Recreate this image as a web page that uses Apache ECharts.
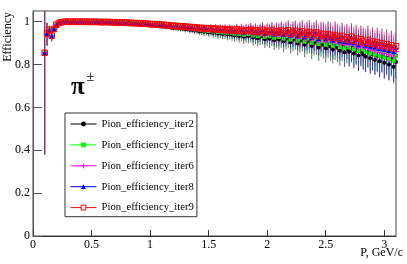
<!DOCTYPE html>
<html>
<head>
<meta charset="utf-8">
<script src="https://cdn.jsdelivr.net/npm/echarts@6/dist/echarts.min.js"></script>
<style>html,body{margin:0;padding:0;background:#fff}#c{width:407px;height:264px}</style>
</head>
<body>
<div id="c"></div>
<script>
// ---- data ----
const P = [
0.10,0.12,0.14,0.16,0.18,0.20,0.22,0.24,0.26,0.28,
0.30,0.32,0.34,0.36,0.38,0.40,0.42,0.44,0.46,0.48,
0.50,0.52,0.54,0.56,0.58,0.60,0.62,0.64,0.66,0.68,
0.70,0.72,0.74,0.76,0.78,0.80,0.82,0.84,0.86,0.88,
0.90,0.92,0.94,0.96,0.98,1.00,1.02,1.04,1.06,1.08,
1.10,1.12,1.14,1.16,1.18,1.20,1.22,1.24,1.26,1.28,
1.30,1.32,1.34,1.36,1.38,1.40,1.42,1.44,1.46,1.48,
1.50,1.52,1.54,1.56,1.58,1.60,1.62,1.64,1.66,1.68,
1.70,1.72,1.74,1.76,1.78,1.80,1.82,1.84,1.86,1.88,
1.90,1.92,1.94,1.96,1.98,2.00,2.02,2.04,2.06,2.08,
2.10,2.12,2.14,2.16,2.18,2.20,2.22,2.24,2.26,2.28,
2.30,2.32,2.34,2.36,2.38,2.40,2.42,2.44,2.46,2.48,
2.50,2.52,2.54,2.56,2.58,2.60,2.62,2.64,2.66,2.68,
2.70,2.72,2.74,2.76,2.78,2.80,2.82,2.84,2.86,2.88,
2.90,2.92,2.94,2.96,2.98,3.00,3.02,3.04,3.06,3.08,3.10];

const iter2 = [
0.855,0.945,0.961,0.934,0.965,0.986,0.994,0.997,0.999,1.000,
1.000,0.999,1.000,0.999,0.999,1.000,0.999,0.999,0.999,0.998,
0.999,0.999,0.998,0.998,0.997,0.998,0.997,0.997,0.996,0.995,
0.996,0.995,0.994,0.994,0.992,0.993,0.991,0.991,0.989,0.990,
0.988,0.988,0.986,0.985,0.985,0.983,0.982,0.982,0.980,0.979,
0.978,0.978,0.975,0.976,0.973,0.971,0.972,0.969,0.968,0.968,
0.965,0.966,0.962,0.963,0.959,0.960,0.956,0.957,0.953,0.955,
0.951,0.953,0.948,0.951,0.945,0.948,0.943,0.946,0.940,0.944,
0.940,0.936,0.942,0.933,0.939,0.930,0.936,0.933,0.938,0.926,
0.933,0.923,0.930,0.934,0.918,0.927,0.921,0.930,0.913,0.924,
0.917,0.926,0.909,0.920,0.927,0.904,0.916,0.922,0.898,0.912,
0.918,0.893,0.907,0.913,0.887,0.902,0.909,0.880,0.898,0.892,
0.876,0.896,0.884,0.870,0.890,0.878,0.864,0.884,0.858,0.874,
0.860,0.878,0.852,0.868,0.842,0.862,0.848,0.836,0.858,0.830,
0.848,0.823,0.842,0.815,0.838,0.808,0.832,0.800,0.826,0.790,0.812];

const iter4 = [
0.855,0.945,0.961,0.934,0.966,0.986,0.994,0.997,0.999,1.000,
1.000,0.999,1.000,1.000,0.999,1.000,0.999,0.999,1.000,0.999,
0.999,0.999,0.999,0.998,0.998,0.998,0.997,0.998,0.997,0.996,
0.997,0.996,0.995,0.995,0.993,0.994,0.992,0.993,0.991,0.991,
0.990,0.990,0.988,0.987,0.988,0.985,0.985,0.985,0.983,0.982,
0.981,0.981,0.978,0.979,0.977,0.975,0.976,0.973,0.972,0.972,
0.970,0.971,0.967,0.968,0.964,0.966,0.962,0.963,0.959,0.961,
0.957,0.960,0.955,0.958,0.952,0.955,0.950,0.954,0.948,0.952,
0.948,0.944,0.951,0.942,0.948,0.939,0.945,0.942,0.948,0.936,
0.943,0.933,0.940,0.945,0.929,0.938,0.932,0.941,0.925,0.935,
0.929,0.938,0.921,0.932,0.939,0.917,0.928,0.935,0.912,0.925,
0.932,0.907,0.921,0.927,0.902,0.917,0.923,0.896,0.913,0.908,
0.893,0.913,0.901,0.888,0.907,0.896,0.882,0.902,0.877,0.893,
0.880,0.898,0.873,0.889,0.864,0.884,0.870,0.859,0.880,0.853,
0.871,0.847,0.866,0.840,0.862,0.834,0.857,0.827,0.852,0.818,0.840];

const iter6 = [
0.855,0.945,0.960,0.933,0.966,0.985,0.994,0.997,0.999,1.000,
1.000,0.999,1.000,1.000,0.999,1.000,1.000,0.999,1.000,0.999,
0.999,1.000,0.999,0.999,0.998,0.998,0.998,0.998,0.997,0.997,
0.997,0.996,0.996,0.996,0.994,0.995,0.993,0.994,0.992,0.992,
0.991,0.991,0.989,0.989,0.989,0.987,0.987,0.987,0.985,0.984,
0.983,0.983,0.980,0.981,0.979,0.977,0.978,0.976,0.975,0.975,
0.973,0.974,0.970,0.971,0.967,0.969,0.965,0.967,0.963,0.965,
0.961,0.964,0.959,0.962,0.956,0.960,0.955,0.959,0.953,0.957,
0.953,0.950,0.957,0.948,0.954,0.945,0.951,0.949,0.955,0.943,
0.950,0.941,0.948,0.953,0.937,0.946,0.941,0.950,0.934,0.944,
0.938,0.947,0.931,0.942,0.949,0.928,0.939,0.945,0.923,0.936,
0.943,0.919,0.933,0.939,0.915,0.929,0.936,0.909,0.927,0.922,
0.907,0.927,0.915,0.902,0.921,0.910,0.896,0.917,0.893,0.908,
0.893,0.913,0.888,0.904,0.879,0.899,0.885,0.875,0.896,0.869,
0.887,0.865,0.882,0.858,0.880,0.852,0.875,0.847,0.870,0.840,0.861];

const iter8 = [
0.855,0.945,0.960,0.932,0.966,0.985,0.994,0.997,0.999,1.000,
1.000,0.999,1.000,1.000,0.999,1.000,1.000,0.999,1.000,0.999,
0.999,1.000,0.999,0.999,0.998,0.999,0.998,0.999,0.998,0.997,
0.998,0.997,0.996,0.996,0.995,0.996,0.994,0.994,0.993,0.993,
0.992,0.992,0.990,0.990,0.990,0.988,0.988,0.988,0.986,0.985,
0.984,0.985,0.982,0.983,0.981,0.979,0.980,0.978,0.977,0.977,
0.975,0.976,0.972,0.974,0.970,0.972,0.968,0.970,0.966,0.968,
0.965,0.967,0.963,0.966,0.960,0.964,0.959,0.963,0.957,0.962,
0.958,0.955,0.962,0.953,0.960,0.951,0.957,0.955,0.961,0.950,
0.957,0.948,0.955,0.960,0.945,0.954,0.949,0.958,0.943,0.953,
0.947,0.956,0.940,0.952,0.958,0.938,0.949,0.955,0.934,0.947,
0.953,0.930,0.944,0.950,0.927,0.941,0.948,0.922,0.940,0.935,
0.920,0.940,0.928,0.915,0.935,0.924,0.910,0.931,0.908,0.922,
0.905,0.928,0.902,0.918,0.893,0.914,0.900,0.890,0.912,0.885,
0.902,0.882,0.898,0.875,0.897,0.870,0.892,0.866,0.888,0.860,0.880];

const iter9 = [
0.855,0.945,0.962,0.935,0.966,0.986,0.994,0.997,0.999,1.000,
1.000,0.999,1.000,1.000,0.999,1.000,1.000,0.999,1.000,0.999,
0.999,1.000,0.999,0.999,0.998,0.999,0.998,0.999,0.998,0.997,
0.998,0.997,0.996,0.997,0.995,0.996,0.994,0.995,0.993,0.994,
0.992,0.993,0.991,0.990,0.991,0.989,0.988,0.989,0.987,0.986,
0.985,0.986,0.983,0.984,0.982,0.980,0.981,0.979,0.978,0.979,
0.976,0.977,0.974,0.975,0.972,0.973,0.970,0.971,0.968,0.970,
0.967,0.969,0.965,0.968,0.963,0.966,0.962,0.965,0.960,0.964,
0.961,0.958,0.964,0.957,0.962,0.955,0.960,0.958,0.963,0.954,
0.960,0.952,0.958,0.962,0.950,0.957,0.953,0.961,0.948,0.956,
0.951,0.958,0.946,0.955,0.960,0.944,0.952,0.957,0.941,0.950,
0.955,0.938,0.948,0.952,0.936,0.945,0.950,0.932,0.944,0.940,
0.928,0.942,0.935,0.925,0.938,0.930,0.921,0.934,0.918,0.927,
0.915,0.930,0.912,0.922,0.905,0.918,0.910,0.902,0.915,0.897,
0.908,0.895,0.903,0.889,0.900,0.886,0.895,0.880,0.890,0.876,0.886];

// statistical errors per bin: upper, and lower (narrow for iter2/4/6/9, wide for iter8)
const errHi = [
0.195,0.05,0.02,0.02,0.012,0.008,0.005,0.004,0.003,0.003,
0.002,0.002,0.002,0.002,0.002,0.002,0.002,0.002,0.002,0.002,
0.002,0.002,0.002,0.003,0.003,0.003,0.003,0.003,0.003,0.003,
0.003,0.003,0.004,0.004,0.004,0.004,0.004,0.005,0.005,0.005,
0.005,0.006,0.006,0.006,0.007,0.007,0.007,0.008,0.008,0.008,
0.009,0.009,0.010,0.010,0.010,0.011,0.011,0.012,0.012,0.013,
0.013,0.014,0.014,0.015,0.015,0.016,0.016,0.017,0.018,0.018,
0.019,0.020,0.020,0.021,0.022,0.022,0.023,0.024,0.024,0.025,
0.026,0.027,0.027,0.028,0.029,0.030,0.031,0.031,0.032,0.033,
0.034,0.035,0.035,0.036,0.037,0.038,0.039,0.040,0.041,0.042,
0.043,0.044,0.046,0.045,0.047,0.048,0.050,0.049,0.051,0.052,
0.053,0.055,0.054,0.056,0.057,0.055,0.058,0.059,0.057,0.060,
0.062,0.060,0.063,0.061,0.064,0.062,0.065,0.063,0.066,0.064,
0.066,0.064,0.067,0.065,0.068,0.066,0.069,0.066,0.068,0.067,
0.069,0.067,0.070,0.068,0.070,0.068,0.071,0.069,0.070,0.068,0.070];

const errLoNarrow = [
0.475,0.055,0.022,0.022,0.013,0.009,0.006,0.004,0.003,0.003,
0.002,0.002,0.002,0.002,0.002,0.002,0.002,0.002,0.002,0.002,
0.002,0.002,0.003,0.003,0.003,0.003,0.003,0.003,0.003,0.003,
0.003,0.004,0.004,0.004,0.004,0.004,0.005,0.005,0.005,0.005,
0.006,0.006,0.006,0.007,0.007,0.007,0.008,0.008,0.009,0.009,
0.010,0.010,0.011,0.011,0.012,0.012,0.013,0.013,0.014,0.014,
0.015,0.015,0.016,0.017,0.017,0.018,0.018,0.019,0.020,0.020,
0.021,0.022,0.022,0.023,0.024,0.025,0.025,0.026,0.027,0.028,
0.028,0.029,0.030,0.031,0.032,0.033,0.033,0.034,0.035,0.036,
0.037,0.038,0.039,0.040,0.041,0.042,0.043,0.044,0.045,0.046,
0.047,0.048,0.050,0.049,0.051,0.052,0.054,0.053,0.055,0.056,
0.057,0.059,0.058,0.060,0.061,0.059,0.062,0.063,0.061,0.064,
0.066,0.064,0.067,0.065,0.068,0.066,0.069,0.067,0.070,0.068,
0.070,0.068,0.071,0.069,0.072,0.070,0.073,0.070,0.072,0.071,
0.073,0.071,0.074,0.072,0.074,0.072,0.075,0.073,0.074,0.072,0.074];

const errLoWide = [
0.475,0.06,0.025,0.025,0.015,0.01,0.006,0.005,0.004,0.004,
0.003,0.003,0.003,0.003,0.003,0.003,0.003,0.003,0.003,0.003,
0.003,0.003,0.003,0.004,0.004,0.004,0.004,0.004,0.004,0.004,
0.004,0.005,0.005,0.005,0.005,0.006,0.006,0.006,0.007,0.007,
0.007,0.008,0.008,0.009,0.009,0.010,0.010,0.011,0.011,0.012,
0.012,0.013,0.013,0.014,0.015,0.015,0.016,0.016,0.017,0.018,
0.018,0.019,0.020,0.020,0.021,0.022,0.023,0.023,0.024,0.025,
0.026,0.027,0.028,0.028,0.029,0.030,0.031,0.032,0.033,0.034,
0.035,0.036,0.037,0.038,0.039,0.040,0.041,0.043,0.044,0.045,
0.046,0.047,0.049,0.050,0.051,0.052,0.054,0.055,0.056,0.058,
0.059,0.061,0.060,0.063,0.065,0.064,0.067,0.069,0.068,0.071,
0.073,0.072,0.075,0.077,0.076,0.079,0.081,0.080,0.083,0.085,
0.084,0.087,0.089,0.088,0.091,0.093,0.092,0.095,0.097,0.096,
0.110,0.114,0.112,0.117,0.120,0.118,0.123,0.126,0.124,0.128,
0.131,0.129,0.134,0.137,0.135,0.139,0.142,0.140,0.145,0.148,0.146];

const seriesNames = ['Pion_efficiency_iter2','Pion_efficiency_iter4','Pion_efficiency_iter6','Pion_efficiency_iter8','Pion_efficiency_iter9'];
const xTicks = [0, 0.5, 1, 1.5, 2, 2.5, 3];
const yTicks = [0, 0.2, 0.4, 0.6, 0.8, 1];
const binHalfWidth = 0.01;

// ---- styling ----
const FONT = 'Liberation Serif';
const styles = [
  {color:'#000000', symbol:'circle', size:4, errOp:0.6},
  {color:'#00ff00', symbol:'rect', size:4, errOp:0.6},
  {color:'#ff00ff', symbol:'path://M-1,-0.18H1V0.18H-1Z M-0.18,-1H0.18V1H-0.18Z', size:6, errOp:0.5},
  {color:'#0000ff', symbol:'triangle', size:5, errOp:0.5},
  {color:'#ff0000', symbol:'rect', size:5.5, errOp:0.45, open:true}
];
const allData = [iter2, iter4, iter6, iter8, iter9];
const allLo = [errLoNarrow, errLoNarrow, errLoNarrow, errLoWide, errLoNarrow];

function errRenderer(color, op) {
  return function (params, api) {
    const x = api.value(0), y = api.value(1), lo = api.value(2), hi = api.value(3);
    const t = api.coord([x, y + hi]);
    const b = api.coord([x, y - lo]);
    const l = api.coord([x - binHalfWidth, y]);
    const r = api.coord([x + binHalfWidth, y]);
    return {
      type: 'group',
      children: [
        {type:'line', shape:{x1:t[0], y1:t[1], x2:b[0], y2:b[1]}, style:{stroke:color, lineWidth:1, opacity:op}},
        {type:'line', shape:{x1:l[0], y1:l[1], x2:r[0], y2:r[1]}, style:{stroke:color, lineWidth:1, opacity:op}}
      ]
    };
  };
}

const series = [];
const legendData = [];
allData.forEach(function (vals, k) {
  const st = styles[k];
  const lo = allLo[k];
  const n = Math.min(P.length, vals.length, lo.length, errHi.length);
  const errData = [], ptData = [];
  for (let i = 0; i < n; i++) {
    errData.push([P[i], vals[i], lo[i], errHi[i]]);
    ptData.push([P[i], vals[i]]);
  }
  series.push({
    type:'custom', name: seriesNames[k] + '_err', silent:true, clip:true,
    renderItem: errRenderer(st.color, st.errOp), data: errData
  });
  series.push({
    type:'line', name: seriesNames[k], data: ptData, silent:true,
    symbol: st.symbol, symbolSize: st.size, showSymbol:true, showAllSymbol:true,
    lineStyle:{opacity:0, width:0},
    itemStyle: st.open ? {color:'rgba(0,0,0,0)', borderColor:st.color, borderWidth:1} : {color:st.color},
    emphasis:{disabled:true}
  });
  legendData.push({
    name: seriesNames[k],
    itemStyle: st.open ? {color:'#ffffff', borderColor:st.color, borderWidth:1} : {color:st.color, borderWidth:0},
    lineStyle: {color:st.color, width:1, opacity:1}
  });
});

const chart = echarts.init(document.getElementById('c'), null, {renderer:'canvas'});
chart.setOption({
  animation:false,
  backgroundColor:'#ffffff',
  grid:{left:33, right:11, top:11, bottom:28, show:true, borderColor:'#444', borderWidth:1, backgroundColor:'transparent'},
  xAxis:{
    type:'value', min:0, max:3.1,
    axisLine:{show:true, onZero:false, lineStyle:{color:'#333', width:1}},
    axisTick:{show:true, inside:true, length:6, customValues:xTicks, lineStyle:{color:'#333'}},
    axisLabel:{customValues:xTicks, margin:3, color:'#000', fontFamily:FONT, fontSize:12, formatter:function(v){return String(v);}},
    splitLine:{show:false}
  },
  yAxis:{
    type:'value', min:0, max:1.05,
    axisLine:{show:true, onZero:false, lineStyle:{color:'#555', width:1}},
    axisTick:{show:true, inside:true, length:9, customValues:yTicks, lineStyle:{color:'#555'}},
    axisLabel:{customValues:yTicks, margin:3, color:'#000', fontFamily:FONT, fontSize:12, formatter:function(v){return String(v);}},
    splitLine:{show:false}
  },
  legend:{
    show:true, orient:'vertical', left:65, top:113,
    padding:[4.5, 3, 2.6, 5],
    itemWidth:26, itemHeight:6, itemGap:7.9,
    borderColor:'#333', borderWidth:1, backgroundColor:'#ffffff',
    selectedMode:false,
    textStyle:{fontFamily:FONT, fontSize:10.7, color:'#000', lineHeight:13},
    data: legendData
  },
  graphic:[
    {type:'text', left:2, top:12, rotation:Math.PI/2, originX:0, originY:0,
      style:{text:'Efficiency', font:'12px "Liberation Serif"', fill:'#000'}},
    {type:'text', x:403, y:253,
      style:{text:'P, GeV/c', font:'12px "Liberation Serif"', fill:'#000', align:'right', verticalAlign:'middle'}},
    {type:'text', x:71, y:88,
      style:{text:'π', font:'bold 25px "Liberation Serif"', fill:'#000', align:'left', verticalAlign:'middle'}},
    {type:'text', x:86.5, y:77,
      style:{text:'±', font:'14px "Liberation Serif"', fill:'#000', align:'left', verticalAlign:'middle'}}
  ],
  series: series
});
</script>
</body>
</html>
